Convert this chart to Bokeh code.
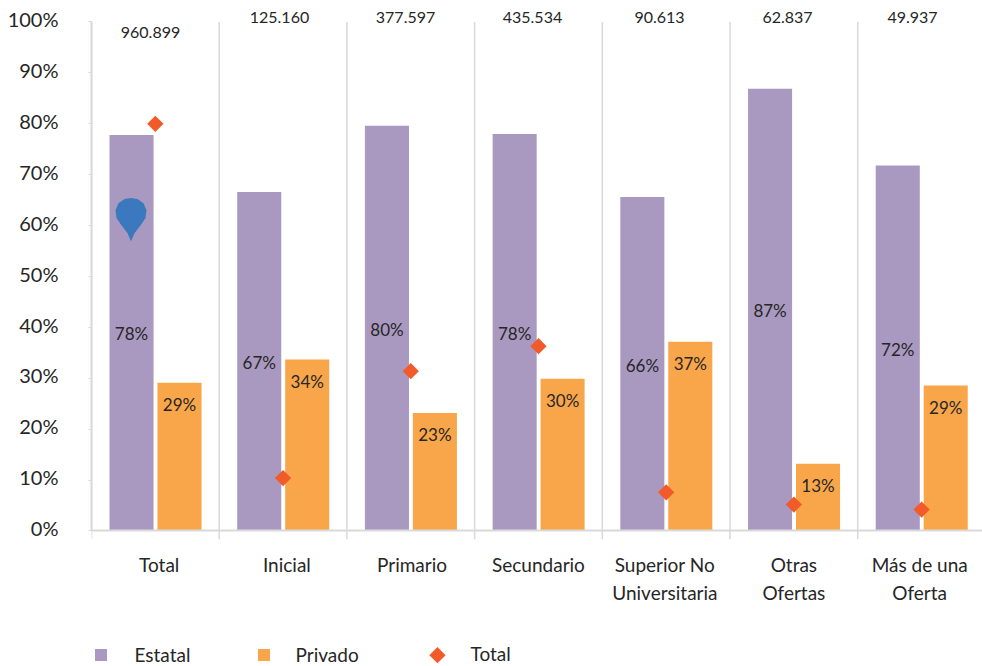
from bokeh.plotting import figure
from bokeh.models import ColumnDataSource, FixedTicker, Range1d, Legend, LegendItem, LinearAxis
from bokeh.transform import dodge
from bokeh.core.properties import value
from bokeh.embed import file_html
from bokeh.resources import INLINE
import math

categories = ["Total", "Inicial", "Primario", "Secundario", "Superior No\nUniversitaria", "Otras\nOfertas", "Más de una\nOferta"]
category_label_x = [0.53, 1.53, 2.51, 3.50, 4.49, 5.50, 6.485]
estatal = [77.8, 66.6, 79.6, 78.0, 65.6, 86.9, 71.8]
privado = [29.1, 33.7, 23.2, 29.9, 37.2, 13.2, 28.6]
total = [80.0, 10.4, 31.4, 36.3, 7.6, 5.2, 4.2]
estatal_labels = ["78%", "67%", "80%", "78%", "66%", "87%", "72%"]
privado_labels = ["29%", "34%", "23%", "30%", "37%", "13%", "29%"]
count_labels = ["960.899", "125.160", "377.597", "435.534", "90.613", "62.837", "49.937"]
count_x = [0.462, 1.472, 2.459, 3.453, 4.448, 5.45, 6.429]
count_y = [97.9, 100.8, 100.8, 100.8, 100.8, 100.8, 100.8]
pin_x = [0.309, 0.282, 0.227, 0.196, 0.188, 0.211, 0.258, 0.309, 0.360, 0.407, 0.431, 0.423, 0.392, 0.337]
pin_y = [56.9, 58.5, 60.3, 61.5, 63.0, 64.4, 65.2, 65.4, 65.2, 64.4, 63.0, 61.5, 60.3, 58.5]
y_ticks = list(range(0, 101, 10))

PURPLE = "#a999c0"
ORANGE = "#f9a64a"
RED = "#f15a29"
GRAY = "#d9d9d9"
TEXT = "#262626"
FONT = "Lato"

centers = [i + 0.5 for i in range(len(categories))]
bounds = list(range(len(categories) + 1))
src = ColumnDataSource(dict(x=centers, estatal=estatal, privado=privado, total=total,
                            elab=estatal_labels, plab=privado_labels,
                            emid=[v / 2 for v in estatal]))

p = figure(width=982, height=666, output_backend="svg", toolbar_location=None,
           x_range=Range1d(0, 6.977), y_range=Range1d(-26.62, 104.22),
           min_border_left=91, min_border_right=0, min_border_top=0, min_border_bottom=0,
           outline_line_color=None, background_fill_color="white")
p.grid.visible = False

p.segment(x0=bounds, y0=[-1.6] * len(bounds), x1=bounds, y1=[100] * len(bounds),
          line_color=GRAY, line_width=1.5)

xa = p.xaxis[0]
xa.fixed_location = 0
xa.ticker = FixedTicker(ticks=category_label_x)
xa.major_label_overrides = {c: l for c, l in zip(category_label_x, categories)}
xa.major_tick_line_color = None
xa.major_tick_out = 0
xa.major_tick_in = 0
xa.minor_tick_line_color = None
xa.axis_line_color = GRAY
xa.axis_line_width = 2
xa.major_label_standoff = 22
xa.major_label_text_font = FONT
xa.major_label_text_font_size = "19px"
xa.major_label_text_color = TEXT

# line and tick marks of the value axis
ya = p.yaxis[0]
ya.ticker = FixedTicker(ticks=y_ticks)
ya.bounds = (0, 100)
ya.major_label_overrides = {t: "" for t in y_ticks}
ya.major_label_standoff = 0
ya.axis_line_color = GRAY
ya.axis_line_width = 2
ya.major_tick_line_color = GRAY
ya.major_tick_out = 3
ya.major_tick_in = 0
ya.minor_tick_line_color = None

# its labels, on a range nudged so they sit where the reference has them
p.extra_y_ranges = {"labels": Range1d(-27.17, 103.67)}
ylab = LinearAxis(y_range_name="labels", ticker=FixedTicker(ticks=y_ticks),
                  major_label_overrides={t: f"{t}%" for t in y_ticks},
                  axis_line_color=None, major_tick_line_color=None, minor_tick_line_color=None,
                  major_tick_out=0, major_tick_in=0, major_label_standoff=30,
                  major_label_text_font=FONT, major_label_text_font_size="20px",
                  major_label_text_color=TEXT)
p.add_layout(ylab, "left")

r_e = p.vbar(x=dodge("x", -0.1865, range=p.x_range), top="estatal", bottom=0, width=0.345, source=src,
             fill_color=PURPLE, line_color=None)
r_p = p.vbar(x=dodge("x", 0.189, range=p.x_range), top="privado", bottom=0, width=0.345, source=src,
             fill_color=ORANGE, line_color=None)

p.patch(pin_x, pin_y, fill_color="#3c78bd", line_color=None)

p.scatter(x="x", y="total", source=src, marker="square", angle=math.pi / 4, size=11.5,
          fill_color=RED, line_color=None)

p.text(x=dodge("x", -0.1865, range=p.x_range), y="emid", text="elab", source=src, y_offset=1,
       text_align="center", text_baseline="middle", text_color=TEXT,
       text_font=value(FONT), text_font_size="17px")
p.text(x=dodge("x", 0.189, range=p.x_range), y="privado", text="plab", source=src, y_offset=22,
       text_align="center", text_baseline="middle", text_color=TEXT,
       text_font=value(FONT), text_font_size="17px")
p.text(x=count_x, y=count_y, text=count_labels,
       text_align="center", text_baseline="middle", text_color=TEXT,
       text_font=value(FONT), text_font_size="16px")

for label, rend, loc, gap in [("Estatal", r_e, (1.5, 0), 27), ("Privado", r_p, (164.5, 0), 25)]:
    lg = Legend(items=[LegendItem(label=label, renderers=[rend])], location=loc,
                background_fill_alpha=0, border_line_color=None, padding=0, margin=0,
                glyph_width=15, glyph_height=15, label_standoff=gap, label_height=12,
                label_text_font=FONT, label_text_font_size="19px", label_text_color=TEXT)
    p.add_layout(lg, "center")

# the legend draws markers unrotated, so the diamond's entry is made of glyphs
p.scatter(x=[2.709], y=[-24.4], marker="square", angle=math.pi / 4, size=11.5,
          fill_color=RED, line_color=None)
p.text(x=[2.968], y=[-24.1], text=["Total"], text_align="left", text_baseline="middle",
       text_color=TEXT, text_font=value(FONT), text_font_size="19px")

open("out.html", "w").write(file_html(p, INLINE))
